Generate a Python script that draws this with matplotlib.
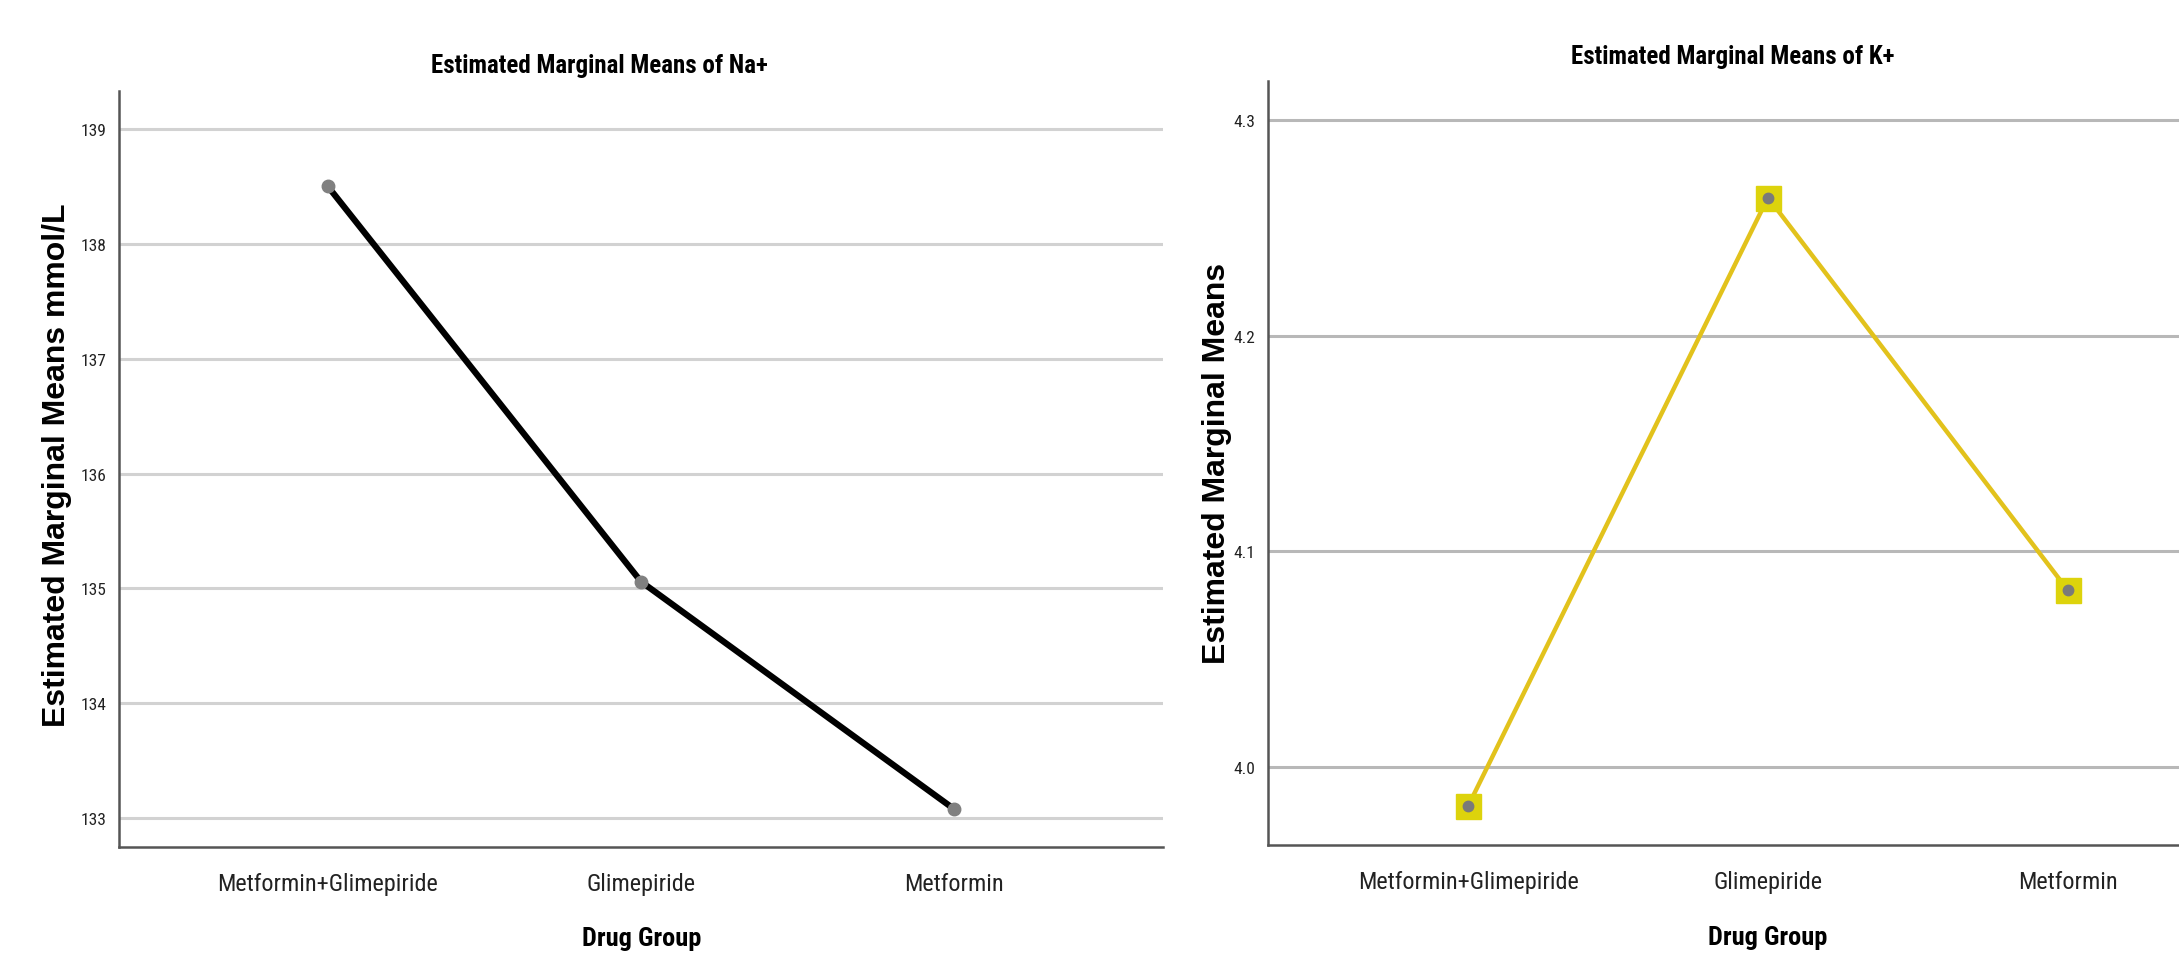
import matplotlib.pyplot as plt

groups = ["Metformin+Glimepiride", "Glimepiride", "Metformin"]
na_means = [138.50, 135.06, 133.08]
k_means = [3.982, 4.264, 4.082]
na_ticks = [133, 134, 135, 136, 137, 138, 139]
k_ticks = [4.0, 4.1, 4.2, 4.3]

NARROW = ["Roboto Condensed", "DejaVu Sans"]
WIDE = ["Liberation Sans", "DejaVu Sans"]

W, H = 2179, 954
fig = plt.figure(figsize=(W / 100, H / 100), dpi=100)


def px_axes(x0, y0, x1, y1):
    # pixel box (top-left origin) -> figure fraction
    return fig.add_axes([x0 / W, 1 - y1 / H, (x1 - x0) / W, (y1 - y0) / H])


def style_axes(ax, ticks, fmt, grid_color):
    x = range(len(groups))
    ax.set_xlim(-0.667, 2.667)
    ax.set_xticks(list(x))
    ax.set_xticklabels(groups, family=NARROW, fontsize=17.5, color="#222222")
    ax.set_yticks(ticks)
    ax.set_yticklabels([fmt.format(t) for t in ticks], family=NARROW, fontsize=12.5, color="#222222")
    ax.tick_params(length=0, axis="y", pad=9)
    ax.tick_params(length=0, axis="x", pad=18)
    ax.yaxis.grid(True, color=grid_color, linewidth=2.2)
    ax.set_axisbelow(True)
    for s in ["top", "right"]:
        ax.spines[s].set_visible(False)
    for s in ["left", "bottom"]:
        ax.spines[s].set_color("#555555")
        ax.spines[s].set_linewidth(1.8)


# Na+ panel
ax1 = px_axes(119, 92, 1163, 848)
ax1.plot(range(3), na_means, color="black", linewidth=4.5, zorder=3)
ax1.plot(range(3), na_means, "o", color="#808080", markersize=9, zorder=4)
ax1.set_ylim(132.75, 139.33)
style_axes(ax1, na_ticks, "{:.0f}", "#d2d2d2")

# K+ panel (runs off the right edge as in the original export)
ax2 = px_axes(1268, 82, 2268, 846)
ax2.plot(range(3), k_means, color="#E2C21C", linewidth=3.2, zorder=3)
ax2.plot(range(3), k_means, "s", color="#DDD30C", markersize=18, zorder=4)
ax2.plot(range(3), k_means, "o", color="#7a7a7a", markersize=7.5, zorder=5)
ax2.set_ylim(3.964, 4.318)
style_axes(ax2, k_ticks, "{:.1f}", "#b8b8b8")

fig.text(599 / W, 1 - 66 / H, "Estimated Marginal Means of Na+", family=NARROW,
         fontsize=18, fontweight="bold", ha="center", va="center")
fig.text(1733 / W, 1 - 57 / H, "Estimated Marginal Means of K+", family=NARROW,
         fontsize=18, fontweight="bold", ha="center", va="center")

fig.text(57 / W, 1 - 465 / H, "Estimated Marginal Means mmol/L", family=WIDE,
         fontsize=23, fontweight="bold", rotation=90, ha="center", va="center")
fig.text(1217 / W, 1 - 463 / H, "Estimated Marginal Means", family=WIDE,
         fontsize=23, fontweight="bold", rotation=90, ha="center", va="center")

fig.text(642 / W, 1 - 939 / H, "Drug Group", family=NARROW,
         fontsize=19, fontweight="bold", ha="center", va="center")
fig.text(1768 / W, 1 - 938 / H, "Drug Group", family=NARROW,
         fontsize=19, fontweight="bold", ha="center", va="center")

fig.savefig("out.png", dpi=100)
